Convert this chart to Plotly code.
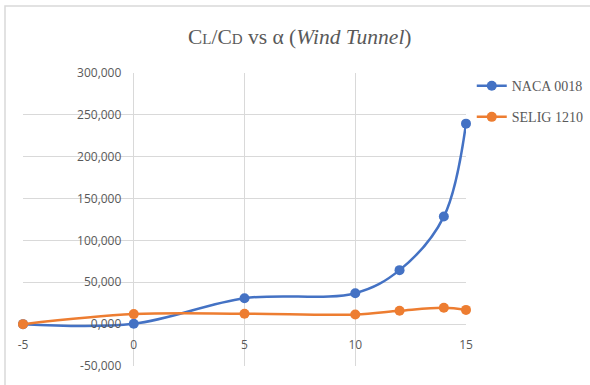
import plotly.graph_objects as go

alpha = [-5, 0, 5, 10, 12, 14, 15]
naca_0018 = [0, 500, 31000, 37000, 64500, 128500, 239500]
selig_1210 = [0, 12000, 12500, 11500, 16000, 19500, 17000]

x_ticks = [-5, 0, 5, 10, 15]
x_tick_labels = ["-5", "0", "5", "10", "15"]
y_ticks = [-50000, 0, 50000, 100000, 150000, 200000, 250000, 300000]
y_tick_labels = ["-50,000", "0,000", "50,000", "100,000", "150,000", "200,000", "250,000", "300,000"]

series_names = ["NACA 0018", "SELIG 1210"]
colors = ["#4472C4", "#ED7D31"]

fig = go.Figure()
for i, (name, vals) in enumerate(zip(series_names, [naca_0018, selig_1210])):
    fig.add_trace(go.Scatter(
        x=alpha, y=vals, name=name, mode="lines+markers",
        line=dict(color=colors[i], width=2.5, shape="spline", smoothing=1),
        marker=dict(color=colors[i], size=10),
        legendgroup=name, cliponaxis=False,
    ))

x_min, x_max = -5, 15
y_min, y_max = -50000, 300000

fig.update_layout(
    width=590, height=385,
    margin=dict(l=23, r=124, t=73, b=19, autoexpand=False),
    paper_bgcolor="white", plot_bgcolor="white",
    title=dict(
        text="C<span style='font-size:15px'>L</span>/C<span style='font-size:15px'>D</span> vs α (<i>Wind Tunnel</i>)",
        font=dict(family="Liberation Serif", size=21.5, color="#595959"),
        x=0.508, xanchor="center", xref="container", y=0.904, yanchor="middle",
    ),
    legend=dict(
        x=1.013, xanchor="left", y=1.01, yanchor="top",
        font=dict(family="Liberation Serif", size=14, color="#595959"),
        tracegroupgap=10, bgcolor="rgba(0,0,0,0)",
    ),
    xaxis=dict(
        range=[x_min, x_max], tickvals=x_ticks, ticktext=x_tick_labels,
        showgrid=True, gridcolor="#d9d9d9", gridwidth=1, zeroline=False,
        anchor="free", position=(0 - y_min) / (y_max - y_min),
        ticks="outside", ticklen=9, tickcolor="rgba(0,0,0,0)",
        tickfont=dict(family="Open Sans", size=12, color="#595959"),
        showline=False,
    ),
    yaxis=dict(
        range=[y_min, y_max], tickvals=y_ticks, ticktext=y_tick_labels,
        showgrid=True, gridcolor="#d9d9d9", gridwidth=1, zeroline=False,
        anchor="free", position=(0 - x_min) / (x_max - x_min),
        ticks="outside", ticklen=10, tickcolor="rgba(0,0,0,0)",
        tickfont=dict(family="Open Sans", size=12, color="#595959"),
        showline=False,
    ),
    showlegend=True,
)

fig.add_shape(type="rect", xref="paper", yref="paper",
              x0=-18 / 443, x1=600 / 443 - 23 / 443, y0=-30 / 293, y1=360 / 293,
              line=dict(color="#d9d9d9", width=1.5), fillcolor="rgba(0,0,0,0)", layer="below")

fig.write_html("out.html")
